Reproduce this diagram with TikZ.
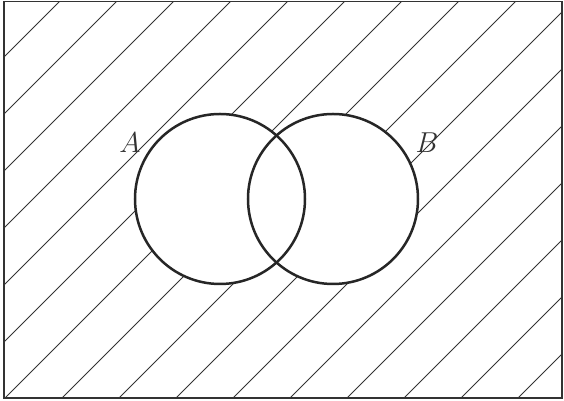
\documentclass[tikz,border=0pt]{standalone}
\usetikzlibrary{positioning}
\tikzset{
  every picture/.style={line width=0.5pt},
  hatch/.style={draw=black!80, line width=0.5pt},
  setline/.style={draw=black!85, line width=1.25pt, fill=white},
  frame/.style={draw=black!80, line width=0.7pt},
  setlabel/.style={font=\fontsize{15.4}{18}\selectfont, text=black!80},
}
\begin{document}
\begin{tikzpicture}[x=0.5pt, y=0.5pt]
  \useasboundingbox (0,0) rectangle (564,401);
  \coordinate (SW) at (4,3);
  \coordinate (NE) at (562,399.5);
  \coordinate (cA) at (220,202);   % centre of A
  \coordinate (cB) at (333,202);   % centre of B
  % hatching of the universe
  \begin{scope}
    \clip (SW) rectangle (NE);
    \foreach \k in {-1,...,16}
      \draw[hatch] (-20,{340-57*\k-20}) -- (600,{340-57*\k+600});
  \end{scope}
  % the two sets
  \fill[white] (cA) circle (85);
  \fill[white] (cB) circle (85);
  \draw[setline, fill=none] (cA) circle (85);
  \draw[setline, fill=none] (cB) circle (85);
  \draw[frame] (SW) rectangle (NE);
  \node[setlabel] (labA) at (130,258) {$A$};
  \node[setlabel] (labB) at (427,258) {$B$};
\end{tikzpicture}
\end{document}
